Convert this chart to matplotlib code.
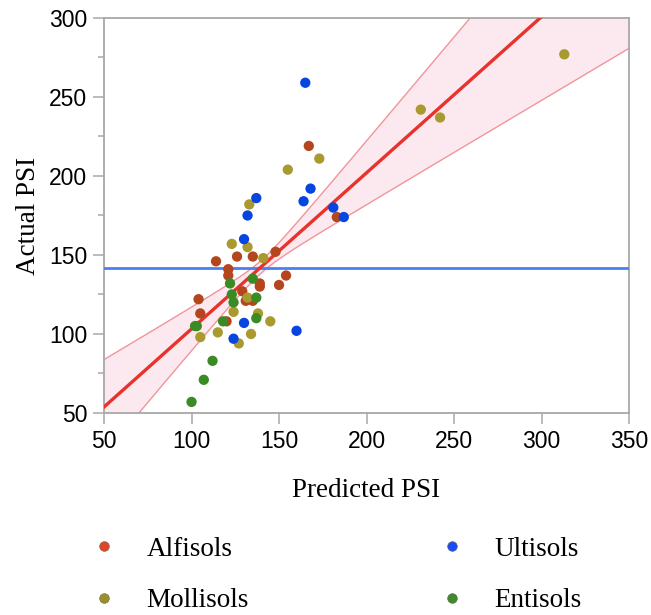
import numpy as np
import matplotlib
matplotlib.use('Agg')
import matplotlib.pyplot as plt
from matplotlib.lines import Line2D

# Points: predicted PSI (x) and actual PSI (y)
alfisols_x = [167, 183, 126, 135, 148, 114, 121, 121, 139, 139, 154, 150, 129, 131, 135, 104, 105, 120]
alfisols_y = [219, 174, 149, 149, 152, 146, 141, 137, 132, 130, 137, 131, 127, 121, 121, 122, 113, 108]

mollisols_x = [173, 155, 133, 231, 242, 313, 123, 132, 141, 132, 124, 138, 145, 105, 115, 134, 127]
mollisols_y = [211, 204, 182, 242, 237, 277, 157, 155, 148, 123, 114, 113, 108, 98, 101, 100, 94]

ultisols_x = [165, 168, 164, 137, 132, 130, 181, 187, 130, 160, 124]
ultisols_y = [259, 192, 184, 186, 175, 160, 180, 174, 107, 102, 97]

entisols_x = [122, 135, 123, 124, 137, 137, 102, 103, 118, 112, 107, 100]
entisols_y = [132, 135, 125, 120, 123, 110, 105, 105, 108, 83, 71, 57]

# fitted line, its confidence band and the mean of actual PSI
fit_slope = 0.988
fit_intercept = 4.4
band_center = 140.0
band_min = 4.0
band_spread = 0.33
mean_actual = 142.0

point_colors = {'Alfisols': '#b4461d', 'Mollisols': '#a89a2e',
                'Ultisols': '#0645e0', 'Entisols': '#3a8b24'}
legend_colors = {'Alfisols': '#e0442a', 'Mollisols': '#9a8f2c',
                 'Ultisols': '#1a4cff', 'Entisols': '#3d8b2c'}

fig = plt.figure(figsize=(6.51, 6.15), dpi=100)
ax = fig.add_axes([0.1598, 0.3285, 0.8065, 0.6423])

xs = np.linspace(50, 350, 500)
fit = fit_slope * xs + fit_intercept
half = np.sqrt(band_min**2 + (band_spread * (xs - band_center))**2)
ax.fill_between(xs, fit - half, fit + half, color='#fce9ef', lw=0, zorder=1)
ax.plot(xs, fit + half, color='#f0959b', lw=1.0, zorder=2)
ax.plot(xs, fit - half, color='#f0959b', lw=1.0, zorder=2)
ax.axhline(mean_actual, color='#4a7ef3', lw=2.0, zorder=3)
ax.plot(xs, fit, color='#e8322b', lw=2.4, zorder=4)

series = [('Alfisols', alfisols_x, alfisols_y),
          ('Mollisols', mollisols_x, mollisols_y),
          ('Ultisols', ultisols_x, ultisols_y),
          ('Entisols', entisols_x, entisols_y)]
for name, x, y in series:
    ax.scatter(x, y, s=55, color=point_colors[name], edgecolors='none', zorder=5)

ax.set_xlim(50, 350)
ax.set_ylim(50, 300)
ax.set_xticks(np.arange(50, 351, 50))
ax.set_yticks(np.arange(50, 301, 50))
ax.set_yticks(np.arange(75, 300, 50), minor=True)
for s in ax.spines.values():
    s.set_color('#a8a8a8')
    s.set_linewidth(1.3)
ax.tick_params(which='major', direction='out', length=8, width=1.1, color='#a8a8a8',
               labelsize=16.5, pad=4)
ax.tick_params(which='minor', direction='out', length=4, width=1.1, color='#a8a8a8')
for lab in ax.get_xticklabels() + ax.get_yticklabels():
    lab.set_family('Liberation Sans')

ax.set_xlabel('Predicted PSI', family='Liberation Serif', fontsize=19.5, labelpad=18)
ax.set_ylabel('Actual PSI', family='Liberation Serif', fontsize=19.5, labelpad=6)

order = ['Alfisols', 'Mollisols', 'Ultisols', 'Entisols']
handles = [Line2D([], [], ls='none', marker='o', markersize=7,
                  markerfacecolor=legend_colors[n], markeredgecolor='#6b6b40',
                  markeredgewidth=0.4) for n in order]
fig.legend(handles, order, ncol=2, loc='upper left', bbox_to_anchor=(0.1475, 0.127),
           frameon=False, prop={'family': 'Liberation Serif', 'size': 19.5},
           handlelength=0.6, handletextpad=1.26, columnspacing=7.2,
           labelspacing=0.98, borderpad=0, borderaxespad=0)

plt.savefig('out.png', dpi=100)
